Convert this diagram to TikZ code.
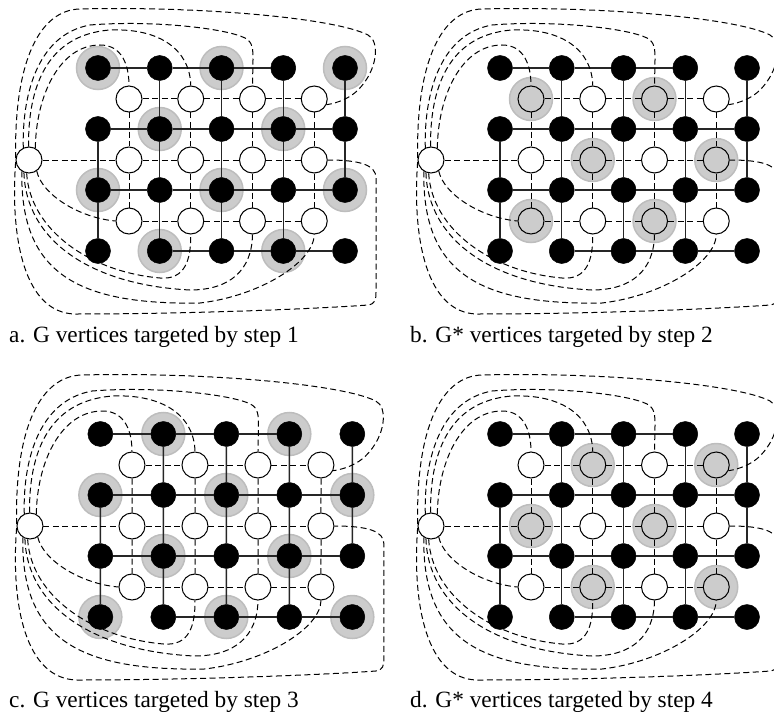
\documentclass[tikz,border=0pt]{standalone}
\usepackage{fontspec}
\setmainfont{Liberation Serif}
\definecolor{haloc}{HTML}{CCCCCC}
\definecolor{haloedge}{HTML}{BDBDBD}
\tikzset{
  bnode/.style={circle, fill=black, draw=black, minimum size=25bp, inner sep=0pt, line width=0.5bp},
  wnode/.style={circle, fill=white, draw=black, minimum size=26bp, inner sep=0pt, line width=1bp},
  gnode/.style={wnode, fill=haloc},
  halo/.style={circle, fill=haloc, draw=haloedge, line width=1.5bp, minimum size=43bp, inner sep=0pt},
  gedge/.style={draw=black!85, line width=1.3bp},
  dedge/.style={draw=black, line width=1bp, dash pattern=on 6bp off 3.5bp},
  capt/.style={font=\fontsize{23.4}{28}\selectfont, inner sep=0pt, anchor=base west}
}
% #1 prefix, #2 mode: 0 = halos on black even, 1 = halos on white even, 2 = black odd, 3 = white odd
\newcommand\mypanel[2]{%
  \foreach \i in {1,...,4}{\foreach \j in {1,...,5}{%
    \pgfmathtruncatemacro\hp{mod(\i+\j,2)}%
    \pgfmathsetmacro\xx{98+61.75*(\j-1)}%
    \pgfmathsetmacro\yy{68+61*(\i-1)}%
    \ifnum#2=0 \ifnum\hp=0 \node[halo] (#1-hb-\i-\j) at (\xx,\yy) {};\fi\fi
    \ifnum#2=2 \ifnum\hp=1 \node[halo] (#1-hb-\i-\j) at (\xx,\yy) {};\fi\fi
    \node[bnode] (#1-b-\i-\j) at (\xx,\yy) {};
  }}
  \foreach \i in {1,...,3}{\foreach \j in {1,...,4}{%
    \pgfmathtruncatemacro\hp{mod(\i+\j,2)}%
    \pgfmathsetmacro\xx{129+61.75*(\j-1)}%
    \pgfmathsetmacro\yy{99+61*(\i-1)}%
    \ifnum#2=1 \ifnum\hp=0 \node[halo] (#1-hw-\i-\j) at (\xx,\yy) {};\node[gnode] (#1-w-\i-\j) at (\xx,\yy) {};\else\node[wnode] (#1-w-\i-\j) at (\xx,\yy) {};\fi
    \else\ifnum#2=3 \ifnum\hp=1 \node[halo] (#1-hw-\i-\j) at (\xx,\yy) {};\node[gnode] (#1-w-\i-\j) at (\xx,\yy) {};\else\node[wnode] (#1-w-\i-\j) at (\xx,\yy) {};\fi
    \else \node[wnode] (#1-w-\i-\j) at (\xx,\yy) {};\fi\fi
  }}
  \node[wnode] (#1-o) at (29,160) {};
  % primal edges
  \foreach \i in {1,...,4}{\foreach \j in {1,...,4}{%
    \pgfmathtruncatemacro\jn{\j+1}%
    \pgfmathtruncatemacro\skp{(\i==1 && \j==4) || (\i==4 && \j==1)}%
    \ifnum\skp=0 \draw[gedge] (#1-b-\i-\j) -- (#1-b-\i-\jn);\fi
  }}
  \foreach \i in {1,...,3}{\foreach \j in {1,...,5}{%
    \pgfmathtruncatemacro\inn{\i+1}%
    \pgfmathtruncatemacro\skp{(\i==1 && \j==1) || (\i==3 && \j==5)}%
    \ifnum\skp=0 \draw[gedge] (#1-b-\i-\j) -- (#1-b-\inn-\j);\fi
  }}
  % dual grid edges
  \foreach \i in {1,...,3}{\foreach \j in {1,...,3}{%
    \pgfmathtruncatemacro\jn{\j+1}%
    \draw[dedge] (#1-w-\i-\j) -- (#1-w-\i-\jn);
  }}
  \foreach \i in {1,2}{\foreach \j in {1,...,4}{%
    \pgfmathtruncatemacro\inn{\i+1}%
    \draw[dedge] (#1-w-\i-\j) -- (#1-w-\inn-\j);
  }}
  % dual edges to the outer vertex
  \draw[dedge] (#1-o.172) .. controls (14,60) and (40,10) .. (80,9)
     .. controls (200,6) and (335,18) .. (368,35)
     .. controls (380,41) and (378,70) .. (358,90)
     .. controls (350,98) and (338,103) .. (#1-w-1-4.-25);
  \draw[dedge] (#1-o.115) .. controls (22,100) and (35,35) .. (90,25)
     .. controls (150,20) and (225,28) .. (245,38)
     .. controls (253,42) and (253,50) .. (253,60) -- (#1-w-1-3.north);
  \draw[dedge] (#1-o.92) .. controls (28,90) and (45,35) .. (110,30)
     .. controls (160,28) and (190,50) .. (#1-w-1-2.north);
  \draw[dedge] (#1-o.62) .. controls (36,95) and (60,45) .. (100,45)
     .. controls (122,45) and (129,65) .. (#1-w-1-1.north);
  \draw[dedge] (#1-o.east) -- (#1-w-2-1.west);
  \draw[dedge] (#1-o.-55) .. controls (42,195) and (80,218) .. (#1-w-3-1.west);
  \draw[dedge] (#1-o.-100) .. controls (30,230) and (90,272) .. (160,278)
     .. controls (185,280) and (191,260) .. (#1-w-3-2.south);
  \draw[dedge] (#1-o.-112) .. controls (26,240) and (90,285) .. (190,290)
     .. controls (230,290) and (252,270) .. (#1-w-3-3.south);
  \draw[dedge] (#1-o.-122) .. controls (20,275) and (80,305) .. (200,303)
     .. controls (260,296) and (314,262) .. (#1-w-3-4.south);
  \draw[dedge] (#1-o.188) .. controls (10,240) and (25,313) .. (75,314)
     .. controls (200,314) and (330,308) .. (368,305)
     .. controls (375,304) and (376,300) .. (376,292) -- (376,178)
     .. controls (376,165) and (360,160) .. (#1-w-2-4.east);
}
\begin{document}
\begin{tikzpicture}[x=1bp, y=-1bp]
\useasboundingbox (0,0) rectangle (774,713);
\clip (0,0) rectangle (774,713);
\begin{scope}
  \mypanel{a}{0}
\end{scope}
\begin{scope}[shift={(402,0)}]
  \mypanel{b}{1}
\end{scope}
\begin{scope}[shift={(0.4,366)}, xscale=1.02]
  \mypanel{c}{2}
\end{scope}
\begin{scope}[shift={(402,366)}]
  \mypanel{d}{3}
\end{scope}
\node[capt] (capa) at (9,342) {a. G vertices targeted by step 1};
\node[capt] (capb) at (410,342) {b. G* vertices targeted by step 2};
\node[capt] (capc) at (9,707) {c. G vertices targeted by step 3};
\node[capt] (capd) at (410,707) {d. G* vertices targeted by step 4};
\end{tikzpicture}
\end{document}
